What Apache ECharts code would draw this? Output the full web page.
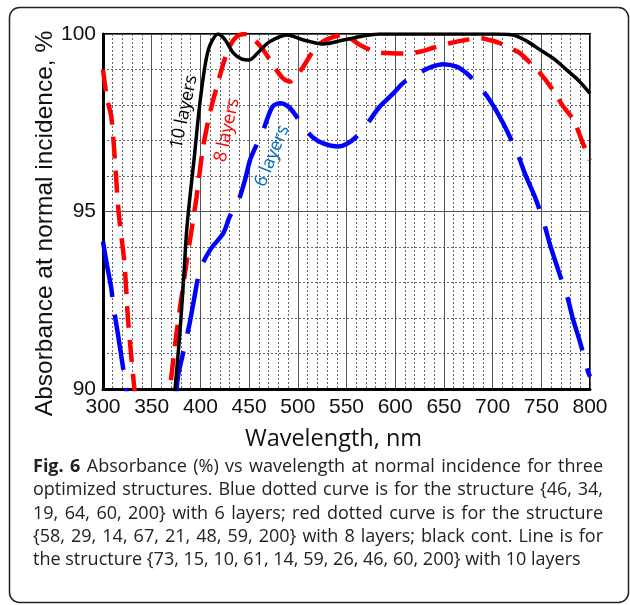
<!DOCTYPE html>
<html>
<head>
<meta charset="utf-8">
<script src="https://cdn.jsdelivr.net/npm/echarts@6/dist/echarts.min.js"></script>
<style>
  html, body { margin: 0; padding: 0; background: #fff; }
  #chart { width: 630px; height: 605px; }
</style>
</head>
<body>
<div id="chart"></div>
<script>
// wavelength (nm) / absorbance (%)
const xTicks = [300, 350, 400, 450, 500, 550, 600, 650, 700, 750, 800];
const yTicks = [90, 95, 100];

// 6 layers (blue dashed) - two branches, the dip goes below the axis
const blueWlA = [300, 304, 308.5, 310.3, 315, 319.5, 324, 326];
const blueAbsA = [94.15, 93.5, 92.84, 92.41, 91.6, 90.8, 89.97, 89.5];
const blueWlB = [374, 377, 383, 389, 393, 399.6, 410, 423.5, 430, 439, 445.8, 451, 458, 464.6, 474, 482, 491, 498, 505.6, 515, 526, 541.6, 550, 560, 572, 584, 597, 610, 627, 638, 649, 663, 673, 683.6, 697, 711, 726, 733, 745, 753.8, 759, 768, 777.7, 781.8, 790, 798, 800];
const blueAbsB = [89.5, 90.35, 91.1, 91.86, 92.45, 93.35, 93.92, 94.39, 94.85, 95.3, 95.89, 96.45, 96.9, 97.3, 97.95, 98.05, 97.94, 97.7, 97.39, 97.1, 96.92, 96.83, 96.9, 97.1, 97.5, 97.95, 98.3, 98.66, 98.94, 99.08, 99.15, 99.08, 98.9, 98.61, 98.14, 97.48, 96.6, 96.08, 95.3, 94.57, 94.06, 93.3, 92.5, 92.04, 91.3, 90.49, 90.35];

// 8 layers (red dashed)
const redWlA = [300, 304, 308.5, 312, 316, 322, 326, 331, 334];
const redAbsA = [99.0, 98.2, 97.67, 96.54, 95.0, 93.54, 91.85, 90.35, 89.5];
const redWlB = [366, 369, 375.6, 386, 396, 402.7, 410, 416.7, 427, 434, 440, 447.5, 455, 464.6, 478, 485, 492, 498, 505.6, 519, 530, 546, 564, 580, 595, 610, 625, 640, 656, 672, 687, 697, 707.6, 718, 728, 738, 749, 762, 772, 783, 793, 800];
const redAbsB = [89.3, 90.07, 91.6, 93.6, 95.4, 96.8, 97.8, 98.5, 99.46, 99.83, 99.97, 100, 99.85, 99.55, 98.99, 98.75, 98.66, 98.8, 99.08, 99.64, 99.85, 99.97, 99.69, 99.5, 99.46, 99.45, 99.5, 99.62, 99.74, 99.83, 99.88, 99.83, 99.74, 99.6, 99.46, 99.2, 98.89, 98.42, 97.98, 97.58, 96.9, 96.45];

// 10 layers (black solid)
const blackWl = [372, 374, 379, 383, 386, 390, 394, 398, 402, 406, 410, 418, 425, 434, 442, 450, 460, 471, 489, 506, 526, 547, 565, 584, 620, 660, 700, 721, 735, 749, 763, 776, 788, 800];
const blackAbs = [89.3, 90, 91.6, 93.2, 94.5, 95.6, 96.6, 97.7, 98.6, 99.3, 99.7, 100, 99.85, 99.46, 99.3, 99.27, 99.5, 99.78, 99.97, 99.83, 99.72, 99.83, 99.93, 100, 100, 100, 100, 99.97, 99.8, 99.55, 99.3, 98.99, 98.7, 98.33];

const captionLines = [
  'Fig. 6 Absorbance (%) vs wavelength at normal incidence for three',
  'optimized structures. Blue dotted curve is for the structure {46, 34,',
  '19, 64, 60, 200} with 6 layers; red dotted curve is for the structure',
  '{58, 29, 14, 67, 21, 48, 59, 200} with 8 layers; black cont. Line is for',
  'the structure {73, 15, 10, 61, 14, 59, 26, 46, 60, 200} with 10 layers'
];

const zip = (a, b) => a.map((v, i) => [v, b[i]]);

const chart = echarts.init(document.getElementById('chart'));

const blueStyle = { color: '#0000ff', width: 4.5, type: [56, 18] };
const redStyle = { color: '#ff0000', width: 4.5, type: [22, 12] };

const graphics = [
  {
    type: 'rect',
    shape: { x: 9.5, y: 7.5, width: 619, height: 595, r: 10 },
    style: { fill: 'none', stroke: '#222', lineWidth: 1.5 },
    z: 100
  },
  { type: 'text', x: 184, y: 112, rotation: 78 * Math.PI / 180,
    style: { text: '10 layers', font: '18px "Open Sans"', fill: '#000', align: 'center', verticalAlign: 'middle' }, z: 100 },
  { type: 'text', x: 227, y: 130, rotation: 78 * Math.PI / 180,
    style: { text: '8 layers', font: '18px "Open Sans"', fill: '#ff0000', align: 'center', verticalAlign: 'middle' }, z: 100 },
  { type: 'text', x: 272, y: 156, rotation: 68 * Math.PI / 180,
    style: { text: '6 layers', font: '18px "Open Sans"', fill: '#0070c0', align: 'center', verticalAlign: 'middle' }, z: 100 }
];

// caption: justified block, last line left aligned
const capLeft = 33, capWidth = 570, capFont = '18px "Open Sans"', capBold = 'bold 18px "Open Sans"';
const ctx = document.createElement('canvas').getContext('2d');
const measure = (s, f) => { ctx.font = f; return ctx.measureText(s).width; };

captionLines.forEach((line, i) => {
  const y = 467 + i * 23.3;
  const words = line.split(' ');
  const bold = i === 0 ? 2 : 0; // "Fig. 6"
  const fonts = words.map((w, k) => (k < bold ? capBold : capFont));
  const widths = words.map((w, k) => measure(w, fonts[k]));
  const total = widths.reduce((a, b) => a + b, 0);
  const last = i === captionLines.length - 1;
  const gap = last ? measure(' ', capFont) : (capWidth - total) / (words.length - 1);
  let x = capLeft;
  words.forEach((w, k) => {
    graphics.push({
      type: 'text', x: x, y: y,
      style: { text: w, font: fonts[k], fill: '#222', verticalAlign: 'middle' },
      z: 100
    });
    x += widths[k] + gap;
  });
});

const option = {
  animation: false,
  backgroundColor: '#fff',
  grid: {
    left: 103, right: 40, top: 34, bottom: 216,
    show: true, borderColor: '#000', borderWidth: 2, backgroundColor: 'transparent'
  },
  xAxis: {
    type: 'value',
    min: xTicks[0], max: xTicks[xTicks.length - 1], interval: 50,
    name: 'Wavelength, nm',
    nameLocation: 'middle',
    nameGap: 38,
    nameTextStyle: { fontFamily: 'Open Sans', fontSize: 23.5, color: '#111', padding: [0, 26, 0, 0] },
    axisLine: { show: true, lineStyle: { color: '#000', width: 3 } },
    axisTick: { show: false },
    axisLabel: { fontFamily: 'Liberation Sans', fontSize: 21, color: '#111', margin: 8 },
    splitLine: { show: true, lineStyle: { color: '#555', width: 1 } },
    minorTick: { show: false, splitNumber: 5 },
    minorSplitLine: { show: true, lineStyle: { color: '#666', width: 1, type: [2, 2] } }
  },
  yAxis: {
    type: 'value',
    min: yTicks[0], max: yTicks[yTicks.length - 1], interval: 5,
    name: 'Absorbance at normal incidence, %',
    nameLocation: 'middle',
    nameGap: 45,
    nameMoveOverlap: false,
    nameRotate: 90,
    nameTextStyle: { fontFamily: 'Liberation Sans', fontSize: 24.5, color: '#111', padding: [0, 24, 0, 0] },
    axisLine: { show: true, lineStyle: { color: '#000', width: 3 } },
    axisTick: { show: false },
    axisLabel: { fontFamily: 'Liberation Sans', fontSize: 21, color: '#111', margin: 7 },
    splitLine: { show: true, lineStyle: { color: '#555', width: 1 } },
    minorTick: { show: false, splitNumber: 5 },
    minorSplitLine: { show: true, lineStyle: { color: '#666', width: 1, type: [2, 2] } }
  },
  series: [
    { name: '6 layers', type: 'line', data: zip(blueWlA, blueAbsA), showSymbol: false, smooth: 0.3, clip: true, lineStyle: blueStyle },
    { name: '6 layers', type: 'line', data: zip(blueWlB, blueAbsB), showSymbol: false, smooth: 0.3, clip: true, lineStyle: blueStyle },
    { name: '8 layers', type: 'line', data: zip(redWlA, redAbsA), showSymbol: false, smooth: 0.3, clip: true, lineStyle: redStyle },
    { name: '8 layers', type: 'line', data: zip(redWlB, redAbsB), showSymbol: false, smooth: 0.3, clip: true, lineStyle: redStyle },
    { name: '10 layers', type: 'line', data: zip(blackWl, blackAbs), showSymbol: false, smooth: 0.3, clip: true, lineStyle: { color: '#000', width: 3.5 } }
  ],
  graphic: graphics
};

chart.setOption(option);
</script>
</body>
</html>
